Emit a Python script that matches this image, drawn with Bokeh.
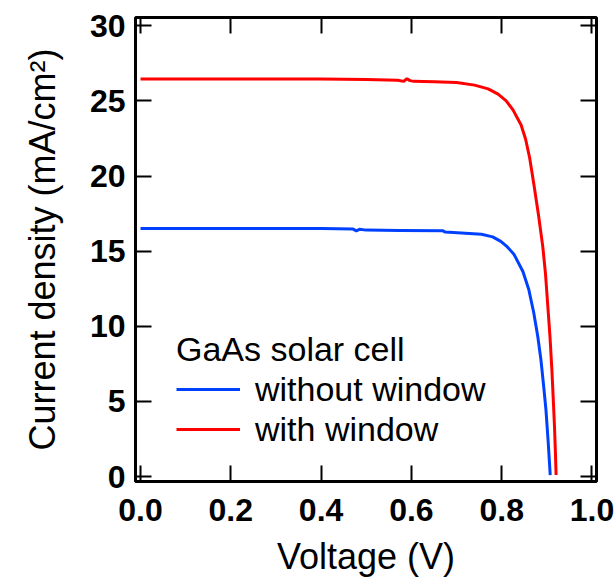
from bokeh.plotting import figure
from bokeh.models import (LinearAxis, FixedTicker, Legend, LegendItem, Range1d,
                          CustomJSTickFormatter, NumeralTickFormatter)
from bokeh.embed import file_html
from bokeh.resources import INLINE

# J-V curves of a GaAs solar cell (voltage in V, current density in mA/cm^2)
v_without = [0.0, 0.1, 0.2, 0.3, 0.4, 0.47, 0.478, 0.485, 0.5, 0.575, 0.67, 0.675,
             0.755, 0.78, 0.798, 0.812, 0.827, 0.847, 0.860, 0.871, 0.880, 0.887,
             0.893, 0.898, 0.903, 0.9075]
j_without = [16.5, 16.5, 16.5, 16.5, 16.5, 16.48, 16.35, 16.45, 16.40, 16.38, 16.35, 16.27,
             16.13, 15.95, 15.65, 15.3, 14.8, 13.65, 12.45, 10.9, 9.3, 7.75,
             6.0, 4.45, 2.3, 0.1]

v_with = [0.0, 0.1, 0.2, 0.3, 0.4, 0.5, 0.57, 0.583, 0.59, 0.597, 0.605, 0.65, 0.70,
          0.74, 0.77, 0.792, 0.81, 0.825, 0.843, 0.853, 0.862, 0.872, 0.882, 0.891,
          0.897, 0.902, 0.907, 0.911, 0.914, 0.917, 0.919, 0.9205]
j_with = [26.45, 26.45, 26.45, 26.45, 26.45, 26.42, 26.38, 26.30, 26.48, 26.35, 26.30,
          26.28, 26.22, 26.05, 25.8, 25.45, 25.0, 24.4, 23.4, 22.45, 21.2, 19.3, 17.3,
          15.3, 13.5, 11.4, 9.3, 7.2, 5.3, 3.3, 1.6, 0.1]

x_ticks = [0.0, 0.2, 0.4, 0.6, 0.8, 1.0]
y_ticks = [0, 5, 10, 15, 20, 25, 30]

legend_title = "GaAs solar cell"
labels = ["without window", "with window"]
colors = ["#0040ff", "#ff0000"]

FONT = "Liberation Sans"

p = figure(width=615, height=579, output_backend="svg", toolbar_location=None,
           x_range=Range1d(-0.0111, 1.0100), y_range=Range1d(-0.33, 30.55),
           min_border_left=135, min_border_right=19, min_border_top=17,
           min_border_bottom=97)
p.background_fill_color = "white"
p.border_fill_color = "white"
p.grid.visible = False
p.outline_line_color = "black"
p.outline_line_width = 3
p.outline_line_alpha = 1.0


def style_axis(ax, ticks, show_labels):
    ax.ticker = FixedTicker(ticks=ticks)
    ax.axis_line_color = None
    ax.major_tick_in = 16
    ax.major_tick_out = 0
    ax.major_tick_line_width = 2
    ax.major_tick_line_color = "black"
    ax.minor_tick_line_color = None
    if show_labels:
        ax.major_label_text_font = FONT
        ax.major_label_text_font_size = "32px"
        ax.major_label_text_font_style = "bold"
        ax.major_label_text_color = "black"
    else:
        ax.formatter = CustomJSTickFormatter(code="return ''")
        ax.major_label_standoff = 0


xa = p.xaxis[0]
ya = p.yaxis[0]
style_axis(xa, x_ticks, True)
style_axis(ya, y_ticks, True)
xa.formatter = NumeralTickFormatter(format="0.0")
xa.major_label_standoff = 17
ya.major_label_standoff = 10

xa.axis_label = "Voltage (V)"
ya.axis_label = "Current density (mA/cm²)"
for ax in (xa, ya):
    ax.axis_label_text_font = FONT
    ax.axis_label_text_font_size = "36px"
    ax.axis_label_text_font_style = "normal"
    ax.axis_label_text_color = "black"
xa.axis_label_standoff = 12
ya.axis_label_standoff = 24

# mirrored tick marks on the top and right edges of the frame
top = LinearAxis()
style_axis(top, x_ticks, False)
p.add_layout(top, "above")
right = LinearAxis()
style_axis(right, y_ticks, False)
p.add_layout(right, "right")

r_without = p.line(v_without, j_without, line_color=colors[0], line_width=3)
r_with = p.line(v_with, j_with, line_color=colors[1], line_width=3)

legend = Legend(items=[LegendItem(label=labels[0], renderers=[r_without]),
                       LegendItem(label=labels[1], renderers=[r_with])],
                title=legend_title, location=(41, 32))
legend.border_line_color = None
legend.background_fill_alpha = 0
legend.padding = 0
legend.margin = 0
legend.spacing = 0
legend.glyph_width = 64
legend.glyph_height = 40
legend.label_height = 40
legend.label_standoff = 15
legend.label_text_font = FONT
legend.label_text_font_size = "34px"
legend.label_text_color = "black"
legend.title_text_font = FONT
legend.title_text_font_size = "34px"
legend.title_text_font_style = "normal"
legend.title_text_color = "black"
legend.title_standoff = 0
p.add_layout(legend)

open("out.html", "w").write(file_html(p, INLINE))
